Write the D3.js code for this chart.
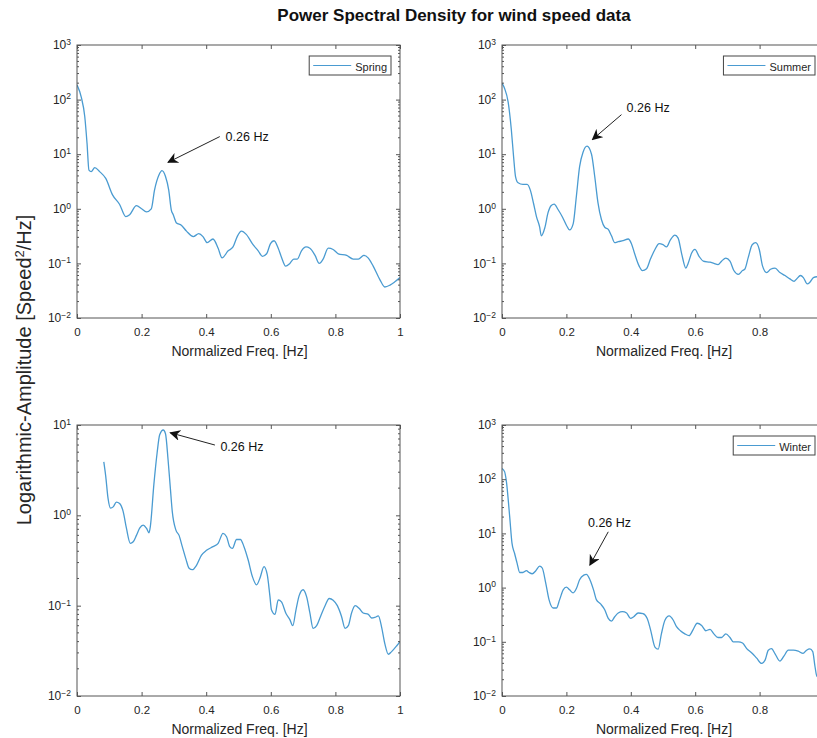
<!DOCTYPE html>
<html>
<head>
<meta charset="utf-8">
<script src="https://cdn.jsdelivr.net/npm/d3@7"></script>
<style>
  body { margin: 0; background: #fff; }
  text { font-family: "Liberation Sans", Arial, sans-serif; fill: #262626; }
</style>
</head>
<body>
<div id="chart"></div>
<script>
    // PSD values: [normalized freq, amplitude]
    const springData = [
        [0, 186], [0.013, 112], [0.024, 49], [0.031, 16], [0.037, 5.1], [0.044, 4.8], [0.055, 5.7],
        [0.07, 4.8], [0.089, 3.6], [0.11, 1.8], [0.132, 1.2], [0.151, 0.72], [0.163, 0.78],
        [0.184, 1.14], [0.2, 1.0], [0.215, 0.88], [0.23, 1.0], [0.24, 2.2], [0.254, 4.2],
        [0.263, 5.0], [0.274, 3.9], [0.284, 2.2], [0.292, 0.95], [0.298, 0.78], [0.308, 0.55],
        [0.323, 0.5], [0.339, 0.39], [0.36, 0.31], [0.377, 0.35], [0.39, 0.31], [0.403, 0.24],
        [0.421, 0.28], [0.437, 0.19], [0.449, 0.126], [0.468, 0.17], [0.483, 0.2], [0.496, 0.31],
        [0.509, 0.39], [0.524, 0.34], [0.545, 0.22], [0.561, 0.17], [0.574, 0.135], [0.587, 0.15],
        [0.599, 0.23], [0.61, 0.26], [0.623, 0.19], [0.633, 0.13], [0.646, 0.089], [0.659, 0.1],
        [0.671, 0.12], [0.682, 0.12], [0.695, 0.17], [0.709, 0.2], [0.721, 0.19], [0.737, 0.14],
        [0.75, 0.1], [0.762, 0.12], [0.778, 0.19], [0.793, 0.18], [0.809, 0.15], [0.835, 0.14],
        [0.855, 0.12], [0.871, 0.12], [0.888, 0.14], [0.902, 0.125], [0.917, 0.089], [0.938, 0.05],
        [0.953, 0.037], [0.969, 0.04], [0.984, 0.046], [1, 0.055]
    ]
    const summerData = [
        [0, 200], [0.008, 160], [0.019, 91], [0.029, 28], [0.036, 9], [0.042, 3.9], [0.05, 3.0],
        [0.065, 2.8], [0.078, 2.8], [0.088, 2.2], [0.098, 1.25], [0.107, 0.72], [0.117, 0.46],
        [0.122, 0.32], [0.133, 0.45], [0.143, 0.85], [0.153, 1.15], [0.162, 1.22], [0.174, 0.97],
        [0.188, 0.7], [0.2, 0.5], [0.21, 0.41], [0.221, 0.53], [0.231, 1.7], [0.241, 5.9],
        [0.252, 11], [0.264, 14], [0.278, 10], [0.288, 3.9], [0.298, 1.3], [0.309, 0.63],
        [0.319, 0.46], [0.33, 0.42], [0.34, 0.32], [0.35, 0.24], [0.361, 0.25], [0.376, 0.26],
        [0.392, 0.28], [0.402, 0.23], [0.412, 0.15], [0.426, 0.089], [0.436, 0.074], [0.449, 0.08],
        [0.461, 0.12], [0.475, 0.18], [0.488, 0.23], [0.5, 0.22], [0.511, 0.2], [0.523, 0.27],
        [0.537, 0.33], [0.547, 0.29], [0.558, 0.15], [0.571, 0.082], [0.578, 0.1], [0.589, 0.155],
        [0.599, 0.18], [0.612, 0.135], [0.625, 0.11], [0.646, 0.105], [0.658, 0.1], [0.671, 0.095],
        [0.682, 0.11], [0.695, 0.125], [0.708, 0.11], [0.72, 0.074], [0.734, 0.063], [0.747, 0.074],
        [0.754, 0.078], [0.765, 0.13], [0.777, 0.22], [0.788, 0.24], [0.799, 0.18], [0.809, 0.09],
        [0.822, 0.068], [0.834, 0.078], [0.848, 0.082], [0.863, 0.068], [0.879, 0.06], [0.894, 0.052],
        [0.907, 0.047], [0.915, 0.052], [0.927, 0.06], [0.936, 0.055], [0.948, 0.042], [0.956, 0.045],
        [0.967, 0.055], [0.978, 0.057], [1, 0.05]
    ]
    const autumnData = [
        [0.083, 3.9], [0.089, 2.7], [0.096, 1.55], [0.104, 1.2], [0.112, 1.24], [0.122, 1.4],
        [0.132, 1.35], [0.143, 1.1], [0.153, 0.72], [0.165, 0.49], [0.174, 0.51], [0.184, 0.6],
        [0.194, 0.72], [0.205, 0.78], [0.215, 0.72], [0.223, 0.64], [0.227, 0.75], [0.238, 2.2],
        [0.248, 4.9], [0.256, 7.8], [0.267, 8.8], [0.274, 8], [0.282, 4.1], [0.289, 2.0],
        [0.295, 1.1], [0.306, 0.69], [0.316, 0.6], [0.326, 0.45], [0.337, 0.33], [0.347, 0.26],
        [0.357, 0.25], [0.37, 0.28], [0.385, 0.36], [0.401, 0.41], [0.421, 0.45], [0.437, 0.49],
        [0.452, 0.63], [0.463, 0.58], [0.473, 0.45], [0.481, 0.43], [0.494, 0.54], [0.506, 0.54],
        [0.517, 0.45], [0.53, 0.32], [0.543, 0.21], [0.556, 0.17], [0.566, 0.2], [0.579, 0.27],
        [0.589, 0.22], [0.597, 0.13], [0.602, 0.09], [0.613, 0.08], [0.623, 0.116], [0.633, 0.11],
        [0.647, 0.082], [0.659, 0.07], [0.668, 0.06], [0.678, 0.09], [0.688, 0.13], [0.7, 0.15],
        [0.711, 0.125], [0.721, 0.083], [0.731, 0.056], [0.742, 0.06], [0.754, 0.076], [0.768, 0.1],
        [0.781, 0.12], [0.793, 0.115], [0.806, 0.1], [0.819, 0.076], [0.83, 0.056], [0.84, 0.06],
        [0.85, 0.083], [0.861, 0.1], [0.874, 0.093], [0.886, 0.083], [0.902, 0.08], [0.912, 0.073],
        [0.922, 0.074], [0.933, 0.077], [0.943, 0.058], [0.953, 0.038], [0.964, 0.029], [0.974, 0.031],
        [0.99, 0.036], [1, 0.04]
    ]
    const winterData = [
        [0, 158], [0.008, 138], [0.013, 97], [0.024, 20], [0.031, 6.6], [0.039, 4.3], [0.047, 2.8],
        [0.055, 1.9], [0.065, 1.9], [0.076, 2.05], [0.084, 1.9], [0.094, 1.8], [0.105, 2.05],
        [0.117, 2.5], [0.125, 2.3], [0.136, 1.2], [0.146, 0.6], [0.159, 0.42], [0.169, 0.42],
        [0.179, 0.6], [0.19, 0.91], [0.2, 1.02], [0.21, 0.91], [0.221, 0.8], [0.231, 0.96],
        [0.241, 1.4], [0.254, 1.7], [0.262, 1.75], [0.273, 1.4], [0.285, 0.88], [0.293, 0.6],
        [0.306, 0.5], [0.319, 0.39], [0.33, 0.27], [0.34, 0.24], [0.35, 0.29], [0.361, 0.34],
        [0.374, 0.36], [0.387, 0.34], [0.399, 0.27], [0.409, 0.29], [0.423, 0.34], [0.438, 0.33],
        [0.451, 0.27], [0.461, 0.17], [0.475, 0.08], [0.485, 0.073], [0.495, 0.14], [0.506, 0.25],
        [0.519, 0.3], [0.532, 0.25], [0.542, 0.19], [0.554, 0.16], [0.568, 0.14], [0.581, 0.13],
        [0.594, 0.17], [0.606, 0.22], [0.62, 0.2], [0.633, 0.16], [0.646, 0.17], [0.658, 0.14],
        [0.671, 0.12], [0.682, 0.12], [0.695, 0.14], [0.708, 0.12], [0.718, 0.1], [0.734, 0.1],
        [0.747, 0.095], [0.76, 0.075], [0.775, 0.063], [0.791, 0.05], [0.806, 0.04], [0.817, 0.046],
        [0.827, 0.07], [0.837, 0.075], [0.848, 0.06], [0.863, 0.044], [0.876, 0.055], [0.889, 0.07],
        [0.905, 0.07], [0.92, 0.067], [0.935, 0.061], [0.946, 0.07], [0.956, 0.074], [0.965, 0.066],
        [0.972, 0.035], [0.978, 0.023], [1, 0.02]
    ]

    const xTicks = [0, 0.2, 0.4, 0.6, 0.8, 1]
    const legendNames = ["Spring", "Summer", null, "Winter"]
    const yMaxExp = [3, 3, 1, 3]
    // annotation: [text freq, text amp, tail freq, tail amp, tip freq, tip amp]
    const notes = [
        [0.46, 21, 0.442, 21, 0.282, 7.1],
        [0.387, 72, 0.371, 53, 0.281, 18.6],
        [0.444, 5.8, 0.427, 6.0, 0.289, 8.2],
        [0.267, 15.8, 0.33, 10.7, 0.273, 2.6]
    ]
    const allData = [springData, summerData, autumnData, winterData]

    const W = 817, H = 738
    const lineColor = "#4a9bd1"
    const axisColor = "#555"

    // plot boxes (left, right, top, bottom) in px
    const boxes = [
        [77, 400, 45, 318],
        [502, 824, 45, 318],
        [77, 400, 425, 696],
        [502, 824, 425, 696]
    ]

    let svg = d3.select("#chart").append("svg")
        .attr("width", W)
        .attr("height", H)

    let defs = svg.append("defs")
    defs.append("marker")
        .attr("id", "head")
        .attr("viewBox", "0 0 10 10")
        .attr("refX", 9).attr("refY", 5)
        .attr("markerWidth", 11).attr("markerHeight", 11)
        .attr("markerUnits", "userSpaceOnUse")
        .attr("orient", "auto")
        .append("path")
        .attr("d", "M0,0 L10,5 L0,10 L3,5 Z")
        .attr("fill", "#111")

    svg.append("text") // title
        .attr("x", 454).attr("y", 21)
        .attr("text-anchor", "middle")
        .attr("font-size", 17)
        .attr("font-weight", "bold")
        .style("fill", "#111")
        .text("Power Spectral Density for wind speed data")

    let yLab = svg.append("text") // shared y label
        .attr("transform", "translate(31,370) rotate(-90)")
        .attr("text-anchor", "middle")
        .attr("font-size", 20)
    yLab.append("tspan").text("Logarithmic-Amplitude [Speed")
    yLab.append("tspan").attr("baseline-shift", "super").attr("font-size", 13).text("2")
    yLab.append("tspan").text("/Hz]")

    boxes.forEach((b, i) => {
        let [x0, x1, y0, y1] = b
        let x = d3.scaleLinear().domain([0, 1]).range([x0, x1])
        let y = d3.scaleLog().domain([1e-2, Math.pow(10, yMaxExp[i])]).range([y1, y0])

        let g = svg.append("g")

        defs.append("clipPath").attr("id", "clip" + i)
            .append("rect")
            .attr("x", x0).attr("y", y0)
            .attr("width", x1 - x0).attr("height", y1 - y0)

        // data line
        let line = d3.line()
            .x((d) => x(d[0]))
            .y((d) => y(d[1]))
            .curve(d3.curveMonotoneX)
        g.append("path")
            .datum(allData[i])
            .attr("clip-path", "url(#clip" + i + ")")
            .attr("fill", "none")
            .attr("stroke", lineColor)
            .attr("stroke-width", 1.3)
            .attr("d", line)

        // box
        g.append("rect")
            .attr("x", x0).attr("y", y0)
            .attr("width", x1 - x0).attr("height", y1 - y0)
            .attr("fill", "none")
            .attr("stroke", axisColor)
            .attr("stroke-width", 1)

        // x axis: bottom labelled, inward ticks top & bottom (labels past the page edge are dropped)
        let xb = g.append("g")
            .attr("transform", "translate(0," + y1 + ")")
            .call(d3.axisBottom(x).tickValues(xTicks).tickSize(-4).tickPadding(10)
                .tickFormat((d) => x(d) > W - 4 ? "" : (d === 0 || d === 1 ? d3.format("d")(d) : d3.format(".1f")(d))))
        xb.select(".domain").remove()
        xb.selectAll("line").attr("stroke", axisColor)
        xb.selectAll("text").attr("font-size", 11.5).style("font-family", "Liberation Sans, Arial")
        let xt = g.append("g")
            .attr("transform", "translate(0," + y0 + ")")
            .call(d3.axisTop(x).tickValues(xTicks).tickSize(-4).tickFormat(""))
        xt.select(".domain").remove()
        xt.selectAll("line").attr("stroke", axisColor)

        // y axis: log decades with minor ticks
        let majors = d3.range(-2, yMaxExp[i] + 1).map((e) => Math.pow(10, e))
        let minors = []
        majors.slice(0, -1).forEach((m) => d3.range(2, 10).forEach((k) => minors.push(m * k)))

        let yl = g.append("g")
            .attr("transform", "translate(" + x0 + ",0)")
            .call(d3.axisLeft(y).tickValues(majors).tickSize(-4).tickFormat(""))
        yl.select(".domain").remove()
        yl.selectAll("line").attr("stroke", axisColor)
        yl.selectAll(".tick").each(function (d) {
            let t = d3.select(this).append("text")
                .attr("x", -6).attr("dy", "0.3em")
                .attr("text-anchor", "end")
                .attr("font-size", 12)
            t.append("tspan").text("10")
            t.append("tspan").attr("dy", "-0.5em").attr("font-size", 8.5)
                .text(d3.format("d")(Math.round(Math.log10(d))))
        })
        let yr = g.append("g")
            .attr("transform", "translate(" + x1 + ",0)")
            .call(d3.axisRight(y).tickValues(majors).tickSize(-4).tickFormat(""))
        yr.select(".domain").remove()
        yr.selectAll("line").attr("stroke", axisColor)
        g.selectAll(".minorL").data(minors).enter().append("line")
            .attr("x1", x0).attr("x2", x0 + 2)
            .attr("y1", (d) => y(d)).attr("y2", (d) => y(d))
            .attr("stroke", axisColor)
        g.selectAll(".minorR").data(minors).enter().append("line")
            .attr("x1", x1).attr("x2", x1 - 2)
            .attr("y1", (d) => y(d)).attr("y2", (d) => y(d))
            .attr("stroke", axisColor)

        // x label
        g.append("text")
            .attr("x", (x0 + x1) / 2 + 1).attr("y", y1 + 33)
            .attr("dy", "0.35em")
            .attr("text-anchor", "middle")
            .attr("font-size", 14)
            .text("Normalized Freq. [Hz]")

        // legend, sized to its text
        if (legendNames[i]) {
            let lg = g.append("g")
            let lt = lg.append("text")
                .attr("font-size", 11)
                .attr("y", y0 + 25.5)
                .text(legendNames[i])
            let tw = lt.node().getComputedTextLength()
            let right = x1 - 9
            let left = right - (tw + 50)
            lt.attr("x", left + 46)
            lg.insert("rect", "text")
                .attr("x", left).attr("y", y0 + 11)
                .attr("width", right - left).attr("height", 19)
                .attr("fill", "#fff")
                .attr("stroke", "#444")
            lg.append("line")
                .attr("x1", left + 4).attr("x2", left + 42)
                .attr("y1", y0 + 20.5).attr("y2", y0 + 20.5)
                .attr("stroke", lineColor).attr("stroke-width", 1.2)
        }

        // annotation arrow
        let n = notes[i]
        g.append("line")
            .attr("x1", x(n[2])).attr("y1", y(n[3]))
            .attr("x2", x(n[4])).attr("y2", y(n[5]))
            .attr("stroke", "#222")
            .attr("stroke-width", 1)
            .attr("marker-end", "url(#head)")
        g.append("text")
            .attr("x", x(n[0])).attr("y", y(n[1]))
            .attr("dy", "0.35em")
            .attr("font-size", 12.5)
            .style("fill", "#111")
            .text("0.26 Hz")
    })
</script>
</body>
</html>
